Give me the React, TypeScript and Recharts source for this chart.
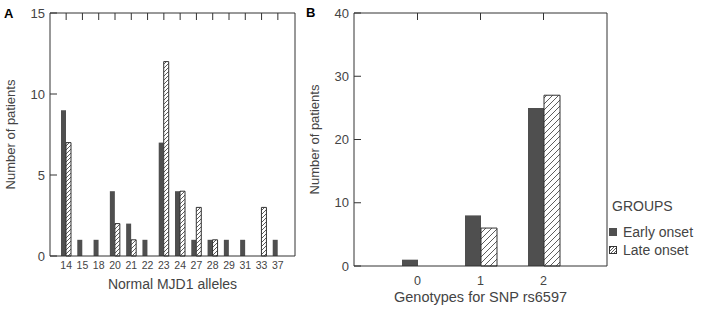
import React from "react";
import { Bar, BarChart, XAxis, YAxis } from "recharts";

const alleles = ["14", "15", "18", "20", "21", "22", "23", "24", "27", "28", "29", "31", "33", "37"];
const earlyAlleles = [9, 1, 1, 4, 2, 1, 7, 4, 1, 1, 1, 1, 0, 1];
const lateAlleles = [7, 0, 0, 2, 1, 0, 12, 4, 3, 1, 0, 0, 3, 0];
const alleleTicks = [0, 5, 10, 15];

const genotypes = ["0", "1", "2"];
const earlyGeno = [1, 8, 25];
const lateGeno = [0, 6, 27];
const genoTicks = [0, 10, 20, 30, 40];

const groups = ["Early onset", "Late onset"];

const alleleData = alleles.map((name, i) => ({ name, early: earlyAlleles[i], late: lateAlleles[i] }));
const genoData = genotypes.map((name, i) => ({ name, early: earlyGeno[i], late: lateGeno[i] }));

const FONT = '"Liberation Sans", Arial, sans-serif';
const AXIS = "#333";
const TXT = "#444";
const DARK = "#4f4f4f";

// empty tick so only the tick marks get drawn
const NoLabel = () => <g />;

const Hatch = ({ id, size }: { id: string; size: number }) => (
  <pattern id={id} patternUnits="userSpaceOnUse" width={size} height={size}>
    <rect width={size} height={size} fill="#fff" />
    <path
      d={`M-1,1 L1,-1 M0,${size} L${size},0 M${size - 1},${size + 1} L${size + 1},${size - 1}`}
      stroke="#333"
      strokeWidth={0.8}
    />
  </pattern>
);

const PanelLabel = ({ text, left, top }: { text: string; left: number; top: number }) => (
  <div style={{ position: "absolute", left, top, fontFamily: FONT, fontWeight: 700, fontSize: 13, lineHeight: 1 }}>
    {text}
  </div>
);

export default function App() {
  return (
    <div style={{ position: "absolute", left: 0, top: 0, width: 709, height: 313, background: "#fff", fontFamily: FONT }}>
      <PanelLabel text="A" left={4} top={7} />
      <PanelLabel text="B" left={306} top={6} />

      <div style={{ position: "absolute", left: 0, top: 0 }}>
        <BarChart
          width={300}
          height={313}
          data={alleleData}
          margin={{ top: 12, right: 4, bottom: 17, left: 0 }}
          barGap={0}
          barSize={5}
        >
          <defs>
            <Hatch id="hatchA" size={4} />
          </defs>
          <XAxis
            dataKey="name"
            height={40}
            padding={{ left: 8, right: 9 }}
            interval={0}
            tickLine={false}
            tickMargin={0}
            stroke={AXIS}
            tick={{ fontSize: 10.5, fill: TXT, fontFamily: FONT }}
            label={{ value: "Normal MJD1 alleles", position: "insideBottom", offset: 7, fontSize: 14, fill: TXT, fontFamily: FONT }}
          />
          <XAxis
            xAxisId="top"
            orientation="top"
            dataKey="name"
            height={1}
            padding={{ left: 8, right: 9 }}
            interval={0}
            tick={NoLabel}
            tickSize={-7}
            stroke={AXIS}
          />
          <YAxis
            width={50}
            domain={[0, 15]}
            ticks={alleleTicks}
            tickSize={-7}
            tickMargin={12}
            stroke={AXIS}
            tick={{ fontSize: 13, fill: TXT, fontFamily: FONT }}
            label={{ value: "Number of patients", angle: -90, position: "insideLeft", offset: 10, fontSize: 13, fill: TXT, fontFamily: FONT, style: { textAnchor: "middle" } }}
          />
          <YAxis
            yAxisId="right"
            orientation="right"
            width={1}
            domain={[0, 15]}
            ticks={alleleTicks}
            tick={NoLabel}
            tickSize={-7}
            stroke={AXIS}
          />
          <Bar dataKey="early" name={groups[0]} fill={DARK} isAnimationActive={false} />
          <Bar dataKey="late" name={groups[1]} fill="url(#hatchA)" stroke={AXIS} strokeWidth={1} isAnimationActive={false} />
        </BarChart>
      </div>

      <div style={{ position: "absolute", left: 300, top: 0 }}>
        <BarChart
          width={409}
          height={313}
          data={genoData}
          margin={{ top: 12, right: 101, bottom: 7, left: 0 }}
          barGap={0}
          barSize={16}
        >
          <defs>
            <Hatch id="hatchB" size={6} />
          </defs>
          <XAxis
            dataKey="name"
            height={40}
            padding={{ left: 32, right: 32 }}
            tickLine={false}
            tickMargin={4}
            stroke={AXIS}
            tick={{ fontSize: 12.5, fill: TXT, fontFamily: FONT }}
            label={{ value: "Genotypes for SNP rs6597", position: "insideBottom", offset: 4, fontSize: 14.5, fill: TXT, fontFamily: FONT }}
          />
          <XAxis
            xAxisId="top"
            orientation="top"
            dataKey="name"
            height={1}
            padding={{ left: 32, right: 32 }}
            tick={NoLabel}
            tickSize={-7}
            stroke={AXIS}
          />
          <YAxis
            width={54}
            domain={[0, 40]}
            ticks={genoTicks}
            tickSize={-7}
            tickMargin={12}
            stroke={AXIS}
            tick={{ fontSize: 13, fill: TXT, fontFamily: FONT }}
            label={{ value: "Number of patients", angle: -90, position: "insideLeft", offset: 14, fontSize: 13, fill: TXT, fontFamily: FONT, style: { textAnchor: "middle" } }}
          />
          <YAxis
            yAxisId="right"
            orientation="right"
            width={1}
            domain={[0, 40]}
            ticks={genoTicks}
            tick={NoLabel}
            tickSize={-7}
            stroke={AXIS}
          />
          <Bar dataKey="early" name={groups[0]} fill={DARK} isAnimationActive={false} />
          <Bar dataKey="late" name={groups[1]} fill="url(#hatchB)" stroke={AXIS} strokeWidth={1} isAnimationActive={false} />
        </BarChart>
      </div>

      <div style={{ position: "absolute", left: 612, top: 197, color: TXT, fontSize: 14, lineHeight: "18px" }}>
        <div style={{ marginBottom: 8 }}>GROUPS</div>
        {groups.map((g, i) => (
          <div key={g} style={{ display: "flex", alignItems: "center", marginLeft: -3 }}>
            <svg width={8} height={8} style={{ marginRight: 6 }}>
              <defs>
                <Hatch id={`hatchL${i}`} size={3} />
              </defs>
              <rect
                x={0.5}
                y={0.5}
                width={7}
                height={7}
                fill={i === 0 ? DARK : `url(#hatchL${i})`}
                stroke={i === 0 ? DARK : AXIS}
                strokeWidth={1}
              />
            </svg>
            <span>{g}</span>
          </div>
        ))}
      </div>
    </div>
  );
}
